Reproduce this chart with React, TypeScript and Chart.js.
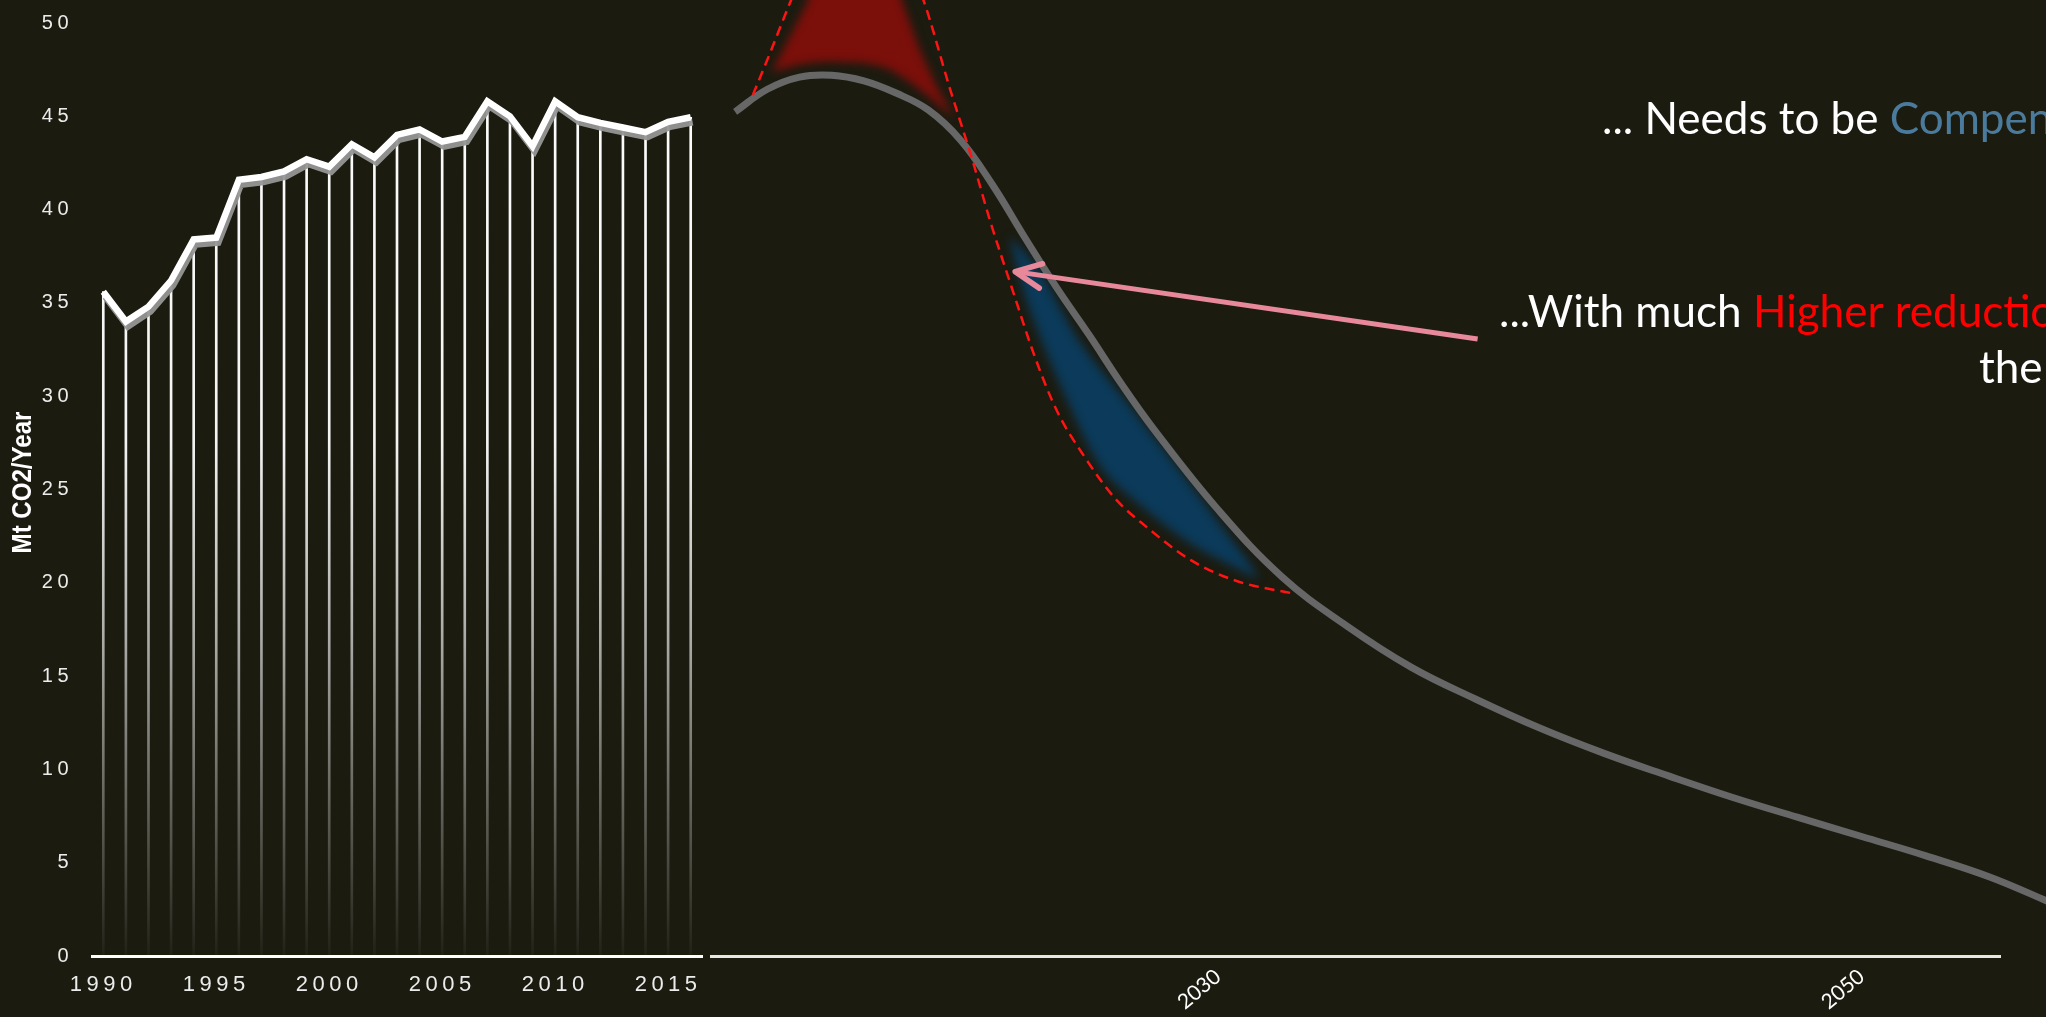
import React, { useEffect, useRef } from 'react';
import { Chart, registerables } from 'chart.js';

// ---------- data ----------
const histYears = [1990, 1991, 1992, 1993, 1994, 1995, 1996, 1997, 1998, 1999, 2000, 2001, 2002, 2003, 2004, 2005, 2006, 2007, 2008, 2009, 2010, 2011, 2012, 2013, 2014, 2015, 2016];
const histValues = [35.6, 34.0, 34.8, 36.2, 38.4, 38.5, 41.6, 41.75, 42.05, 42.7, 42.3, 43.5, 42.8, 44.0, 44.3, 43.65, 43.9, 45.8, 45.0, 43.4, 45.8, 44.95, 44.65, 44.4, 44.15, 44.7, 44.95];

const yTicksStep = 5;
const yTitle = 'Mt CO2/Year';

const projYears = [2015, 2016, 2017, 2018, 2019, 2020, 2021, 2022, 2023, 2024, 2025, 2026, 2027, 2028, 2030, 2032, 2034, 2036, 2038, 2040, 2042, 2044, 2046, 2048, 2050, 2052, 2054, 2056];
const projValues = [45.0, 46.2, 46.85, 46.95, 46.65, 46.0, 45.1, 43.5, 41.1, 38.3, 35.6, 33.1, 30.5, 28.1, 23.8, 20.2, 17.6, 15.4, 13.7, 12.15, 10.8, 9.6, 8.45, 7.4, 6.37, 5.34, 4.2, 2.75];

const highYears = [2015.55, 2016.1, 2016.75, 2017.8, 2018.8, 2019.8, 2020.84, 2021.68, 2022.36, 2022.92, 2023.62, 2024.32, 2025.0, 2025.84, 2026.8, 2027.76, 2029.16, 2030.56, 2032.4];
const highValues = [45.9, 48.2, 51.0, 55.0, 56.5, 55.0, 51.0, 46.2, 42.5, 39.2, 35.5, 31.9, 29.05, 26.65, 24.4, 22.9, 21.1, 20.0, 19.3];

// over-emission area (closed outline)
const redYears = [2016.14, 2017.27, 2017.58, 2019.88, 2020.18, 2020.75, 2021.27, 2021.78, 2020.95, 2020.33, 2019.71, 2018.98, 2017.64, 2016.92];
const redValues = [47.14, 50.96, 52.56, 52.56, 50.96, 48.29, 46.34, 44.74, 45.9, 46.7, 47.32, 47.6, 47.67, 47.5];

// compensation area (closed outline)
const blueYears = [2023.54, 2024.44, 2025.68, 2027.08, 2028.48, 2029.84, 2031.24, 2030.56, 2029.16, 2027.76, 2026.4, 2025.28, 2024.16, 2023.6];
const blueValues = [38.35, 36.57, 32.84, 29.74, 26.65, 23.56, 20.2, 20.68, 21.96, 23.77, 25.96, 29.74, 34.4, 37.7];

const arrowYears = [2038.07, 2023.7];
const arrowValues = [32.89, 36.48];
const arrowHeadYears = [2024.55, 2023.7, 2024.45];
const arrowHeadValues = [36.9, 36.48, 35.6];

const projTickYears = [2030, 2050];
const projXMin = 2014.25;
const projXMax = 2054.3;

const note1 = [['... Needs to be ', '#ffffff'], ['Compensated', '#4b7b9c']];
const note2 = [['...With much ', '#ffffff'], ['Higher reductions', '#ff0000']];
const note3 = [['the', '#ffffff']];

// ---------- style ----------
const BG = '#1b1b10';
const W = 2046;
const H = 1017;

const xy = (xs: number[], ys: number[]) => xs.map((x, i) => ({ x, y: ys[i] }));

const fxPlugin = {
  id: 'fx',
  beforeDatasetDraw(chart: any, args: any) {
    const ds: any = chart.data.datasets[args.index];
    if (ds.fxBlur || ds.fxShadow) {
      const ctx = chart.ctx;
      ctx.save();
      if (ds.fxBlur) ctx.filter = `blur(${ds.fxBlur}px)`;
      if (ds.fxShadow) {
        ctx.shadowColor = ds.fxShadow.color;
        ctx.shadowOffsetX = ds.fxShadow.x;
        ctx.shadowOffsetY = ds.fxShadow.y;
        ctx.shadowBlur = ds.fxShadow.blur;
      }
    }
  },
  afterDatasetDraw(chart: any, args: any) {
    const ds: any = chart.data.datasets[args.index];
    if (ds.fxBlur || ds.fxShadow) chart.ctx.restore();
  },
};

Chart.register(fxPlugin as any);
Chart.register(...registerables);

export default function App() {
  const leftRef = useRef<HTMLCanvasElement>(null);
  const rightRef = useRef<HTMLCanvasElement>(null);

  useEffect(() => {
    document.body.style.margin = '0';
    document.body.style.background = BG;
    document.body.style.overflow = 'hidden';

    const leftDeco = {
      id: 'leftDeco',
      beforeLayout(chart: any) { chart.ctx.letterSpacing = '4.5px'; },
      beforeDraw(chart: any) { chart.ctx.letterSpacing = '4.5px'; },
      afterDraw(chart: any) {
        const ctx = chart.ctx;
        const a = chart.chartArea;
        ctx.save();
        ctx.letterSpacing = '0px';
        ctx.translate(23, (a.top + a.bottom) / 2 - 7);
        ctx.rotate(-Math.PI / 2);
        ctx.scale(0.86, 1);
        ctx.font = 'bold 28px "Liberation Sans", Arial, sans-serif';
        ctx.fillStyle = '#ffffff';
        ctx.textAlign = 'center';
        ctx.textBaseline = 'middle';
        ctx.fillText(yTitle, 0, 0);
        ctx.restore();
      },
    };

    const left = new Chart(leftRef.current!, {
      type: 'bar',
      data: {
        labels: histYears.map(String),
        datasets: [
          {
            type: 'line',
            label: 'Emissions',
            data: histValues,
            borderColor: '#ffffff',
            borderWidth: 6.5,
            pointRadius: 0,
            tension: 0,
            order: 0,
            fxShadow: { color: 'rgba(150,150,150,0.95)', x: 2, y: 5, blur: 0 },
          } as any,
          {
            type: 'bar',
            label: 'Drop',
            data: histValues,
            barThickness: 2,
            order: 1,
            backgroundColor: (c: any) => {
              const { chart } = c;
              const area = chart.chartArea;
              if (!area) return '#ffffff';
              const g = chart.ctx.createLinearGradient(0, area.top, 0, area.bottom);
              g.addColorStop(0, 'rgba(255,255,255,1)');
              g.addColorStop(0.45, 'rgba(255,255,255,0.95)');
              g.addColorStop(0.68, 'rgba(255,255,255,0.6)');
              g.addColorStop(0.82, 'rgba(255,255,255,0.35)');
              g.addColorStop(1, 'rgba(255,255,255,0.03)');
              return g;
            },
          } as any,
        ],
      },
      options: {
        animation: false,
        responsive: false,
        layout: { padding: { top: 18, right: W - 702, left: 0, bottom: 0 } },
        plugins: { legend: { display: false }, tooltip: { enabled: false } },
        scales: {
          x: {
            offset: true,
            grid: { display: false, drawTicks: false },
            border: { display: true, color: '#ffffff', width: 3 },
            ticks: {
              color: '#ececec',
              font: { family: '"Liberation Sans", Arial, sans-serif', size: 22 },
              padding: 16,
              autoSkip: false,
              maxRotation: 0,
              minRotation: 0,
              callback: (_v: any, i: number) => (histYears[i] % 5 === 0 ? String(histYears[i]) : ''),
            },
            afterFit: (s: any) => { s.height = 61; },
          },
          y: {
            min: 0,
            max: 50,
            grid: { display: false },
            border: { display: false },
            ticks: {
              stepSize: yTicksStep,
              color: '#ececec',
              font: { family: '"Liberation Sans", Arial, sans-serif', size: 20 },
              padding: 11,
            },
            afterFit: (s: any) => { s.width = 92; },
          },
        },
      },
      plugins: [leftDeco],
    } as any);

    const notes = {
      id: 'notes',
      afterDraw(chart: any) {
        const ctx = chart.ctx;
        ctx.save();
        ctx.font = '44px Lato, "Open Sans", sans-serif';
        ctx.textBaseline = 'alphabetic';
        ctx.textAlign = 'left';
        const run = (x: number, y: number, parts: string[][]) => {
          let cx = x;
          for (const [t, c] of parts) {
            ctx.fillStyle = c;
            ctx.fillText(t, cx, y);
            cx += ctx.measureText(t).width;
          }
        };
        run(1602, 134, note1);
        run(1499, 327, note2);
        run(1979, 383, note3);
        ctx.restore();
      },
    };

    const right = new Chart(rightRef.current!, {
      type: 'line',
      data: {
        datasets: [
          {
            label: 'Over-emission',
            data: xy(redYears, redValues),
            fill: 'shape',
            backgroundColor: '#7b0f0a',
            borderWidth: 0,
            pointRadius: 0,
            tension: 0.15,
            order: 4,
            fxBlur: 4,
          } as any,
          {
            label: 'Compensation',
            data: xy(blueYears, blueValues),
            fill: 'shape',
            backgroundColor: '#0b3a5a',
            borderWidth: 0,
            pointRadius: 0,
            tension: 0.3,
            order: 3,
            fxBlur: 5,
          } as any,
          {
            label: 'Reduction path',
            data: xy(projYears, projValues),
            borderColor: '#676767',
            borderWidth: 7,
            pointRadius: 0,
            tension: 0.4,
            capBezierPoints: false,
            clip: false,
            order: 2,
          },
          {
            label: 'Higher reduction path',
            data: xy(highYears, highValues),
            borderColor: '#ff1414',
            borderWidth: 2.5,
            borderDash: [10, 6],
            pointRadius: 0,
            cubicInterpolationMode: 'monotone',
            capBezierPoints: false,
            clip: false,
            order: 1,
          },
          {
            label: 'Arrow',
            data: xy(arrowYears, arrowValues),
            borderColor: '#e8889b',
            borderWidth: 5,
            pointRadius: 0,
            tension: 0,
            clip: false,
            order: 0,
          },
          {
            label: 'Arrow head',
            data: xy(arrowHeadYears, arrowHeadValues),
            borderColor: '#e8889b',
            borderWidth: 5.5,
            borderCapStyle: 'round',
            borderJoinStyle: 'round',
            pointRadius: 0,
            tension: 0,
            clip: false,
            order: 0,
          },
        ],
      },
      options: {
        animation: false,
        responsive: false,
        layout: { padding: { left: 711, right: W - 2000, top: 0, bottom: 0 } },
        plugins: { legend: { display: false }, tooltip: { enabled: false } },
        scales: {
          x: {
            type: 'linear',
            min: projXMin,
            max: projXMax,
            afterBuildTicks: (s: any) => { s.ticks = projTickYears.map((v) => ({ value: v })); },
            grid: { display: false, drawTicks: false },
            border: { display: true, color: '#e6e6e6', width: 3 },
            ticks: {
              color: '#ffffff',
              font: { family: 'Lato, "Open Sans", sans-serif', size: 21 },
              minRotation: 40,
              maxRotation: 40,
              padding: 8,
              autoSkip: false,
              callback: (v: any) => String(v),
            },
            afterFit: (s: any) => { s.height = 61; },
          },
          y: {
            display: false,
            min: 0,
            max: (50 * 956) / 938,
          },
        },
      },
      plugins: [notes],
    } as any);

    return () => {
      left.destroy();
      right.destroy();
    };
  }, []);

  return (
    <div style={{ position: 'relative', width: W, height: H, background: BG, overflow: 'hidden' }}>
      <canvas ref={leftRef} width={W} height={H} style={{ position: 'absolute', left: 0, top: 0 }} />
      <canvas ref={rightRef} width={W} height={H} style={{ position: 'absolute', left: 0, top: 0 }} />
    </div>
  );
}
